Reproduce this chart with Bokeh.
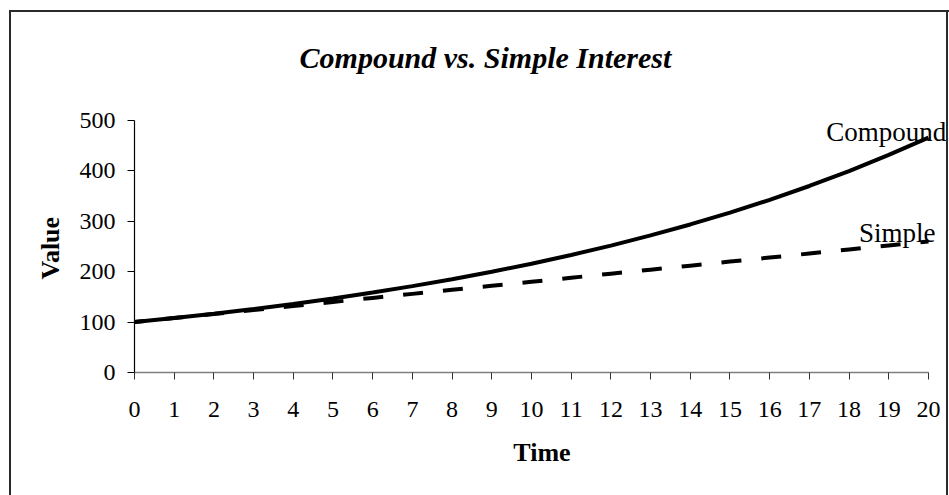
from bokeh.plotting import figure
from bokeh.models import Label, FixedTicker, Range1d, ColumnDataSource, Title
from bokeh.embed import file_html
from bokeh.resources import INLINE

# ---- data ----
time = list(range(21))
compound = [100.0, 108.0, 116.6, 126.0, 136.0, 146.9, 158.7, 171.4, 185.1, 199.9,
            215.9, 233.2, 251.8, 272.0, 293.7, 317.2, 342.6, 370.0, 399.6, 431.6, 466.1]
simple = [100, 108, 116, 124, 132, 140, 148, 156, 164, 172,
          180, 188, 196, 204, 212, 220, 228, 236, 244, 252, 260]
x_ticks = list(range(21))
y_ticks = [0, 100, 200, 300, 400, 500]
title_text = "Compound vs. Simple Interest"
x_title = "Time"
y_title = "Value"
series_names = ["Compound", "Simple"]

FONT = "Liberation Serif"
W, H = 949, 495

src = ColumnDataSource(dict(t=time, c=compound, s=simple))

# frame spans from the y axis to the right edge and from the top edge to the x axis;
# the axes themselves are bounded to the data extent (0..20, 0..500)
p = figure(width=W, height=H, output_backend="svg", toolbar_location=None, title=None,
           x_range=Range1d(0, 20.53), y_range=Range1d(0, 738),
           min_border_left=134, min_border_right=0, min_border_top=0, min_border_bottom=123)
p.background_fill_color = None
p.border_fill_color = None
p.outline_line_color = None
p.xgrid.visible = False
p.ygrid.visible = False

# outer chart border (css on the plot element)
p.styles = {
    "background-color": "white",
    "background-image": "linear-gradient(#2a2a2a,#2a2a2a), linear-gradient(#2a2a2a,#2a2a2a), linear-gradient(#2a2a2a,#2a2a2a)",
    "background-size": "2px 100%, 100% 2px, 2px 100%",
    "background-position": "9px 10px, 9px 10px, 946px 10px",
    "background-repeat": "no-repeat",
}

p.line("t", "c", source=src, line_color="black", line_width=4)
p.line("t", "s", source=src, line_color="black", line_width=4,
       line_dash="20 20", line_dash_offset=10)

# axes
xa = p.xaxis[0]
xa.bounds = (0, 20)
xa.ticker = FixedTicker(ticks=x_ticks)
xa.axis_line_color = "#808080"
xa.axis_line_width = 1.5
xa.major_tick_line_color = "#333333"
xa.major_tick_in = 0
xa.major_tick_out = 7
xa.minor_tick_line_color = None
xa.major_label_text_font = FONT
xa.major_label_text_font_size = "24px"
xa.major_label_text_color = "black"
xa.major_label_standoff = 22
xa.axis_label = x_title
xa.axis_label_text_font = FONT
xa.axis_label_text_font_size = "26px"
xa.axis_label_text_font_style = "bold"
xa.axis_label_text_color = "black"
xa.axis_label_standoff = 18

ya = p.yaxis[0]
ya.bounds = (0, 500)
ya.ticker = FixedTicker(ticks=y_ticks)
ya.axis_line_color = "black"
ya.axis_line_width = 1.2
ya.major_tick_line_color = "black"
ya.major_tick_in = 0
ya.major_tick_out = 7
ya.minor_tick_line_color = None
ya.major_label_text_font = FONT
ya.major_label_text_font_size = "24px"
ya.major_label_text_color = "black"
ya.major_label_standoff = 12

# y axis title: centred on the 0..500 part of the axis, not on the whole frame
p.add_layout(Title(text=y_title, align="left", offset=93, standoff=24,
                   text_font=FONT, text_font_size="26px", text_font_style="bold",
                   text_color="black"), "left")

# title and series labels
p.add_layout(Label(x=8.84, y=625, text=title_text, text_font=FONT, text_font_size="30px",
                   text_font_style="bold italic", text_align="center",
                   text_baseline="alphabetic", text_color="black"))
p.add_layout(Label(x=20.45, y=478, text=series_names[0], text_font=FONT, text_font_size="27px",
                   text_align="right", text_baseline="alphabetic", text_color="black"))
p.add_layout(Label(x=20.18, y=276, text=series_names[1], text_font=FONT, text_font_size="27px",
                   text_align="right", text_baseline="alphabetic", text_color="black"))

open("out.html", "w").write(file_html(p, INLINE))
